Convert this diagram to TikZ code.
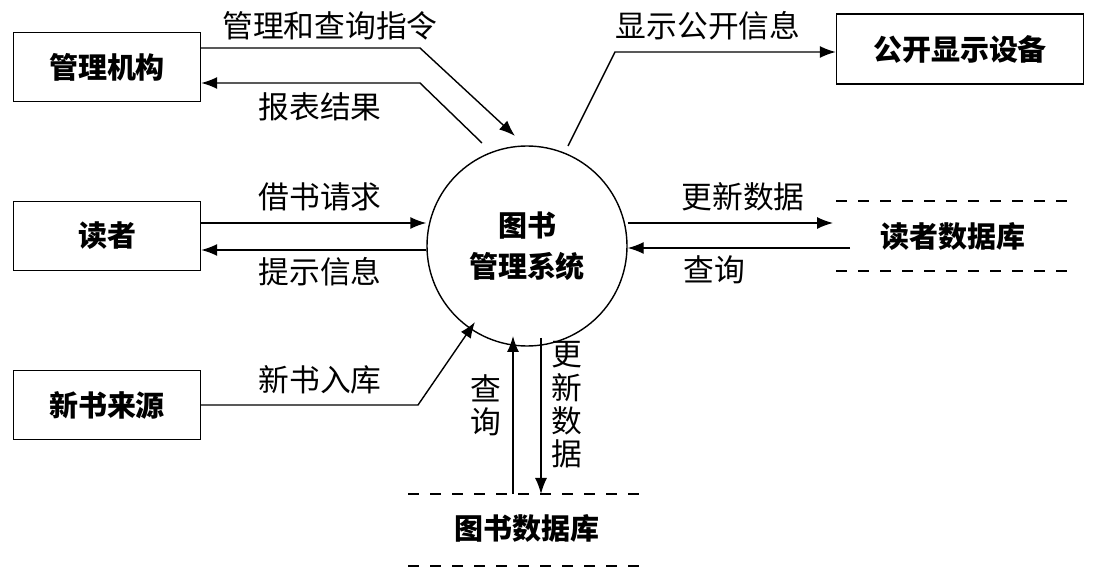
\documentclass[tikz,border=0pt]{standalone}
\usepackage{fontspec}
\setmainfont{Noto Sans CJK SC}
\usetikzlibrary{arrows.meta, positioning}

\begin{document}
\begin{tikzpicture}[
    font=\fontsize{17.5}{21}\selectfont,
    box/.style={
        rectangle,
        draw=black,
        thick,
        minimum width=3.74cm,
        minimum height=1.38cm,
        align=center,
        font=\fontsize{16.5}{21}\selectfont\bfseries
    },
    flow/.style={-{Latex[length=3.2mm,width=2.4mm]}, thick},
    store/.style={thick, dash pattern=on 2.2mm off 2.2mm}
]
\useasboundingbox (0,0) rectangle (21.96,11.6);

\node[box] (admin) at (2.14,10.26) {管理机构};
\node[box] (reader) at (2.14,6.88) {读者};
\node[box] (source) at (2.14,3.5) {新书来源};
\node[box, minimum width=4.94cm, minimum height=1.4cm] (display) at (19.2,10.62) {公开显示设备};
\node[circle, draw, thick, minimum size=4cm, align=center,
      font=\fontsize{16.5}{23}\selectfont\bfseries] (sys) at (10.54,6.68) {图书\\管理系统};

\node[font=\fontsize{16.5}{21}\selectfont\bfseries] (readerdb) at (19.06,6.88) {读者数据库};
\draw[store] (16.72,7.58) -- (21.46,7.58);
\draw[store] (16.72,6.18) -- (21.46,6.18);
\node[font=\fontsize{16.5}{21}\selectfont\bfseries] (bookdb) at (10.54,1.04) {图书数据库};
\draw[store] (8.16,1.72) -- (12.9,1.72);
\draw[store] (8.16,0.28) -- (12.9,0.28);

% management
\coordinate (c1) at (8.4,10.64);
\coordinate (c2) at (8.4,9.94);
\draw[flow] (admin.east |- c1) -- (c1) -- (10.3,8.88);
\draw[flow] (9.64,8.74) -- (c2) -- (admin.east |- c2);
\node at (6.6,11.08) {管理和查询指令};
\node at (6.4,9.46) {报表结果};

% display
\coordinate (c3) at (12.3,10.56);
\draw[flow] (11.36,8.68) -- (c3) -- (display.west |- c3);
\node at (14.16,11.08) {显示公开信息};

% reader
\draw[flow] (reader.east |- 0,7.14) -- (sys.west |- 0,7.14);
\draw[flow] (sys.west |- 0,6.6) -- (reader.east |- 0,6.6);
\node at (6.4,7.66) {借书请求};
\node at (6.4,6.16) {提示信息};

% reader db
\draw[flow] (sys.east |- 0,7.14) -- (16.66,7.14);
\draw[flow] (17.0,6.64) -- (sys.east |- 0,6.64);
\node at (14.86,7.66) {更新数据};
\node at (14.28,6.2) {查询};

% new books
\coordinate (c4) at (8.36,3.5);
\draw[flow] (source.east) -- (c4) -- (9.5,5.16);
\node at (6.4,4.0) {新书入库};

% book db
\draw[flow] (10.26,1.72) -- (10.26,4.88);
\draw[flow] (10.82,4.84) -- (10.82,1.72);
\node[align=center, font=\fontsize{17.5}{19}\selectfont] at (9.72,3.5) {查\\询};
\node[align=center, font=\fontsize{17.5}{19}\selectfont] at (11.34,3.5) {更\\新\\数\\据};

\end{tikzpicture}
\end{document}
